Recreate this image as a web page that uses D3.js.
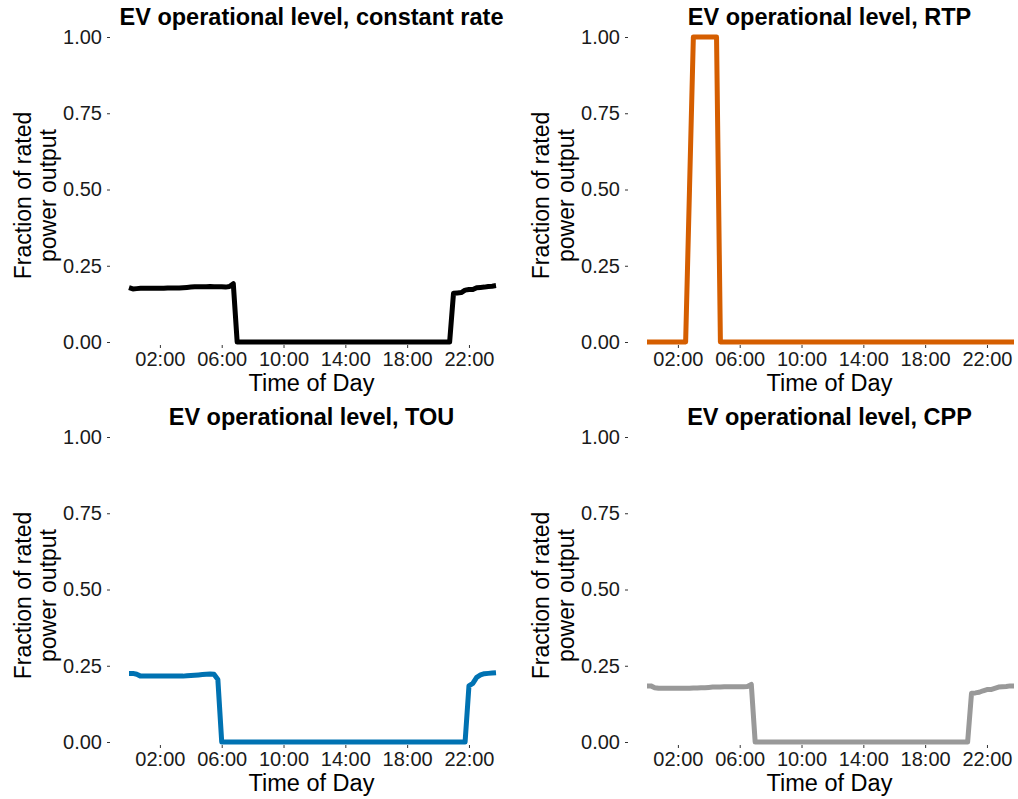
<!DOCTYPE html>
<html>
<head>
<meta charset="utf-8">
<script src="https://cdn.jsdelivr.net/npm/d3@7"></script>
<style>
  html, body { margin: 0; padding: 0; background: #fff; }
  svg { display: block; font-family: "Liberation Sans", Arial, Helvetica, sans-serif; }
</style>
</head>
<body>
<svg id="chart" width="1018" height="799"></svg>
<script>
// Quarter-hour time slots (hours since midnight)
const hours = [
  0, 0.25, 0.5, 0.75, 1, 1.25, 1.5, 1.75, 2, 2.25, 2.5, 2.75,
  3, 3.25, 3.5, 3.75, 4, 4.25, 4.5, 4.75, 5, 5.25, 5.5, 5.75,
  6, 6.25, 6.5, 6.75, 7, 7.25, 7.5, 7.75, 8, 8.25, 8.5, 8.75,
  9, 9.25, 9.5, 9.75, 10, 10.25, 10.5, 10.75, 11, 11.25, 11.5, 11.75,
  12, 12.25, 12.5, 12.75, 13, 13.25, 13.5, 13.75, 14, 14.25, 14.5, 14.75,
  15, 15.25, 15.5, 15.75, 16, 16.25, 16.5, 16.75, 17, 17.25, 17.5, 17.75,
  18, 18.25, 18.5, 18.75, 19, 19.25, 19.5, 19.75, 20, 20.25, 20.5, 20.75,
  21, 21.25, 21.5, 21.75, 22, 22.25, 22.5, 22.75, 23, 23.25, 23.5, 23.75
];

// EV operational level (fraction of rated power output) per tariff
const constantRate = [
  0.178, 0.174, 0.175, 0.176, 0.176, 0.176, 0.176, 0.176, 0.176, 0.176, 0.177, 0.177,
  0.177, 0.177, 0.178, 0.179, 0.180, 0.181, 0.181, 0.181, 0.181, 0.182, 0.181, 0.181,
  0.181, 0.180, 0.182, 0.191, 0, 0, 0, 0, 0, 0, 0, 0,
  0, 0, 0, 0, 0, 0, 0, 0, 0, 0, 0, 0,
  0, 0, 0, 0, 0, 0, 0, 0, 0, 0, 0, 0,
  0, 0, 0, 0, 0, 0, 0, 0, 0, 0, 0, 0,
  0, 0, 0, 0, 0, 0, 0, 0, 0, 0, 0, 0,
  0.160, 0.161, 0.162, 0.170, 0.172, 0.172, 0.178, 0.179, 0.180, 0.182, 0.183, 0.185
];

const rtp = [
  0, 0, 0, 0, 0, 0, 0, 0, 0, 0, 0, 0.5,
  1, 1, 1, 1, 1, 1, 1, 0, 0, 0, 0, 0,
  0, 0, 0, 0, 0, 0, 0, 0, 0, 0, 0, 0,
  0, 0, 0, 0, 0, 0, 0, 0, 0, 0, 0, 0,
  0, 0, 0, 0, 0, 0, 0, 0, 0, 0, 0, 0,
  0, 0, 0, 0, 0, 0, 0, 0, 0, 0, 0, 0,
  0, 0, 0, 0, 0, 0, 0, 0, 0, 0, 0, 0,
  0, 0, 0, 0, 0, 0, 0, 0, 0, 0, 0, 0
];

const tou = [
  0.225, 0.225, 0.222, 0.216, 0.216, 0.216, 0.216, 0.216, 0.216, 0.216, 0.216, 0.216,
  0.216, 0.216, 0.216, 0.217, 0.218, 0.219, 0.220, 0.221, 0.222, 0.223, 0.222, 0.205,
  0, 0, 0, 0, 0, 0, 0, 0, 0, 0, 0, 0,
  0, 0, 0, 0, 0, 0, 0, 0, 0, 0, 0, 0,
  0, 0, 0, 0, 0, 0, 0, 0, 0, 0, 0, 0,
  0, 0, 0, 0, 0, 0, 0, 0, 0, 0, 0, 0,
  0, 0, 0, 0, 0, 0, 0, 0, 0, 0, 0, 0,
  0, 0, 0, 0, 0.184, 0.192, 0.212, 0.220, 0.224, 0.225, 0.226, 0.227
];

const cpp = [
  0.184, 0.184, 0.178, 0.176, 0.176, 0.176, 0.176, 0.176, 0.176, 0.176, 0.176, 0.176,
  0.177, 0.177, 0.178, 0.178, 0.179, 0.180, 0.180, 0.180, 0.181, 0.181, 0.181, 0.181,
  0.181, 0.181, 0.182, 0.189, 0, 0, 0, 0, 0, 0, 0, 0,
  0, 0, 0, 0, 0, 0, 0, 0, 0, 0, 0, 0,
  0, 0, 0, 0, 0, 0, 0, 0, 0, 0, 0, 0,
  0, 0, 0, 0, 0, 0, 0, 0, 0, 0, 0, 0,
  0, 0, 0, 0, 0, 0, 0, 0, 0, 0, 0, 0,
  0.160, 0.161, 0.163, 0.168, 0.172, 0.172, 0.176, 0.180, 0.181, 0.182, 0.184, 0.184
];

const panelTitles = [
  "EV operational level, constant rate",
  "EV operational level, RTP",
  "EV operational level, TOU",
  "EV operational level, CPP"
];
const seriesList = [constantRate, rtp, tou, cpp];
const lineColors = ["#000000", "#D55E00", "#0072B2", "#999999"];

const yTicks = [0, 0.25, 0.5, 0.75, 1];
const xTicks = [2, 6, 10, 14, 18, 22];
const xTitle = "Time of Day";
const yTitle = ["Fraction of rated", "power output"];

const svg = d3.select("#chart");

// Panel placement: 2 x 2 grid
const colOffset = 518, rowOffset = 400;
const plotLeft = 110, plotRight = 513;

const x = d3.scaleLinear().domain([0, 23.75]).range([129, 496]);
const y = d3.scaleLinear().domain([0, 1]).range([342, 37]);

const fmtHour = h => String(h).padStart(2, "0") + ":00";

seriesList.forEach((values, i) => {
  const col = i % 2, row = Math.floor(i / 2);
  const g = svg.append("g")
    .attr("transform", `translate(${col * colOffset},${row * rowOffset})`);

  // title
  g.append("text")
    .attr("x", (plotLeft + plotRight) / 2)
    .attr("y", 25)
    .attr("text-anchor", "middle")
    .attr("font-size", 23.5)
    .attr("font-weight", "bold")
    .attr("fill", "#000")
    .text(panelTitles[i]);

  // y axis
  const ya = g.append("g")
    .attr("transform", `translate(${plotLeft},0)`)
    .call(d3.axisLeft(y).tickValues(yTicks).tickFormat(d3.format(".2f"))
      .tickSize(3).tickPadding(5));
  ya.select(".domain").remove();
  ya.selectAll(".tick line").attr("stroke", "#333");
  ya.selectAll(".tick text").attr("font-size", 20).attr("fill", "#1a1a1a")
    .attr("font-family", null);

  // x axis
  const xa = g.append("g")
    .attr("transform", `translate(0,345)`)
    .call(d3.axisBottom(x).tickValues(xTicks).tickFormat(fmtHour)
      .tickSize(3).tickPadding(4));
  xa.select(".domain").remove();
  xa.selectAll(".tick line").attr("stroke", "#333");
  xa.selectAll(".tick text").attr("font-size", 20).attr("fill", "#1a1a1a")
    .attr("font-family", null);

  // axis titles
  g.append("text")
    .attr("x", (plotLeft + plotRight) / 2)
    .attr("y", 391)
    .attr("text-anchor", "middle")
    .attr("font-size", 23.5)
    .attr("fill", "#000")
    .text(xTitle);

  const yt = g.append("text")
    .attr("transform", `translate(0,${(y(0) + y(1)) / 2 + 6}) rotate(-90)`)
    .attr("text-anchor", "middle")
    .attr("font-size", 23)
    .attr("fill", "#000");
  yt.append("tspan").attr("x", 0).attr("y", 31).text(yTitle[0]);
  yt.append("tspan").attr("x", 0).attr("y", 56).text(yTitle[1]);

  // line
  const line = d3.line()
    .x((d, k) => x(hours[k]))
    .y(d => y(d));
  g.append("path")
    .datum(values)
    .attr("d", line)
    .attr("fill", "none")
    .attr("stroke", lineColors[i])
    .attr("stroke-width", 5)
    .attr("stroke-linejoin", "round")
    .attr("stroke-linecap", "butt");
});
</script>
</body>
</html>
